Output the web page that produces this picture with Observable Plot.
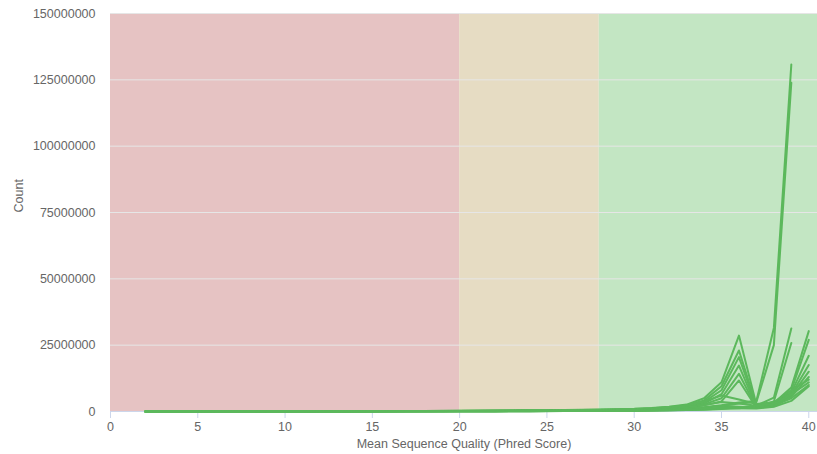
<!DOCTYPE html>
<html>
<head>
<meta charset="utf-8">
<script src="https://cdn.jsdelivr.net/npm/d3@7"></script>
<script src="https://cdn.jsdelivr.net/npm/@observablehq/plot@0.6"></script>
<style>
  body { margin: 0; background: #ffffff; }
</style>
</head>
<body>
<div id="chart"></div>
<script>
// Mean sequence quality (Phred score) on the x axis
const quality = [2, 3, 4, 5, 6, 7, 8, 9, 10, 11, 12, 13, 14, 15, 16, 17, 18, 19, 20,
  21, 22, 23, 24, 25, 26, 27, 28, 29, 30, 31, 32, 33, 34, 35, 36, 37, 38, 39, 40];

// Read counts per sample, in millions, one value per quality score above
const sample01 = [0.04, 0.04, 0.05, 0.05, 0.06, 0.06, 0.07, 0.08, 0.09, 0.10, 0.11, 0.12, 0.13, 0.15, 0.17, 0.19, 0.21, 0.24, 0.27,
  0.30, 0.34, 0.38, 0.43, 0.49, 0.56, 0.64, 0.74, 0.86, 1.0, 1.3, 1.8, 2.6, 5.0, 11.0, 28.6, 2.5, 3.2, 9.0, 30.3];
const sample02 = [0.04, 0.04, 0.04, 0.05, 0.05, 0.06, 0.07, 0.07, 0.08, 0.09, 0.10, 0.11, 0.12, 0.14, 0.15, 0.17, 0.19, 0.22, 0.25,
  0.28, 0.31, 0.35, 0.40, 0.45, 0.51, 0.58, 0.67, 0.78, 0.9, 1.2, 1.7, 2.4, 4.2, 9.5, 23.0, 2.2, 2.8, 8.0, 27.0];
const sample03 = [0.03, 0.04, 0.04, 0.04, 0.05, 0.05, 0.06, 0.07, 0.07, 0.08, 0.09, 0.10, 0.11, 0.12, 0.14, 0.15, 0.17, 0.20, 0.22,
  0.25, 0.28, 0.32, 0.36, 0.41, 0.46, 0.52, 0.60, 0.70, 0.8, 1.1, 1.5, 2.1, 3.6, 8.0, 20.5, 2.0, 2.6, 7.2, 21.0];
const sample04 = [0.03, 0.03, 0.04, 0.04, 0.04, 0.05, 0.05, 0.06, 0.06, 0.07, 0.08, 0.09, 0.10, 0.11, 0.12, 0.14, 0.15, 0.17, 0.20,
  0.22, 0.25, 0.28, 0.32, 0.36, 0.41, 0.47, 0.54, 0.62, 0.7, 1.0, 1.3, 1.9, 3.1, 6.5, 17.3, 1.8, 2.4, 6.5, 17.5];
const sample05 = [0.03, 0.03, 0.03, 0.04, 0.04, 0.04, 0.05, 0.05, 0.06, 0.06, 0.07, 0.08, 0.09, 0.10, 0.11, 0.12, 0.14, 0.15, 0.17,
  0.20, 0.22, 0.25, 0.28, 0.32, 0.37, 0.42, 0.48, 0.55, 0.6, 0.9, 1.2, 1.7, 2.7, 5.0, 14.2, 1.6, 2.2, 6.0, 15.0];
const sample06 = [0.02, 0.03, 0.03, 0.03, 0.04, 0.04, 0.04, 0.05, 0.05, 0.06, 0.06, 0.07, 0.08, 0.09, 0.10, 0.11, 0.12, 0.14, 0.15,
  0.17, 0.20, 0.22, 0.25, 0.29, 0.33, 0.38, 0.43, 0.50, 0.6, 0.8, 1.1, 1.5, 2.3, 3.8, 11.7, 1.4, 2.0, 5.5, 13.0];
const sample07 = [0.01, 0.01, 0.02, 0.02, 0.02, 0.03, 0.03, 0.03, 0.04, 0.04, 0.05, 0.05, 0.06, 0.06, 0.07, 0.08, 0.09, 0.10, 0.11,
  0.12, 0.14, 0.16, 0.18, 0.20, 0.23, 0.27, 0.32, 0.40, 0.5, 0.6, 0.8, 1.1, 1.6, 2.4, 3.4, 4.0, 31.5, 130.8];
const sample08 = [0.01, 0.01, 0.02, 0.02, 0.02, 0.02, 0.03, 0.03, 0.03, 0.04, 0.04, 0.05, 0.05, 0.06, 0.07, 0.07, 0.08, 0.09, 0.10,
  0.12, 0.13, 0.15, 0.17, 0.19, 0.22, 0.26, 0.31, 0.38, 0.5, 0.6, 0.8, 1.0, 1.4, 2.1, 3.0, 3.6, 25.0, 123.9];
const sample09 = [0.01, 0.01, 0.01, 0.01, 0.02, 0.02, 0.02, 0.02, 0.03, 0.03, 0.03, 0.04, 0.04, 0.05, 0.05, 0.06, 0.06, 0.07, 0.08,
  0.09, 0.10, 0.11, 0.13, 0.15, 0.17, 0.19, 0.22, 0.26, 0.3, 0.4, 0.5, 0.6, 0.8, 1.1, 1.5, 2.2, 5.2, 31.3];
const sample10 = [0.01, 0.01, 0.01, 0.01, 0.01, 0.02, 0.02, 0.02, 0.02, 0.03, 0.03, 0.03, 0.04, 0.04, 0.05, 0.05, 0.06, 0.06, 0.07,
  0.08, 0.09, 0.10, 0.12, 0.13, 0.15, 0.18, 0.21, 0.25, 0.3, 0.4, 0.5, 0.6, 0.7, 0.9, 1.2, 1.8, 3.8, 25.8];
const sample11 = [0.03, 0.03, 0.04, 0.04, 0.05, 0.05, 0.06, 0.06, 0.07, 0.08, 0.09, 0.10, 0.11, 0.12, 0.13, 0.15, 0.17, 0.19, 0.21,
  0.24, 0.27, 0.30, 0.34, 0.38, 0.43, 0.49, 0.55, 0.62, 0.7, 1.0, 1.5, 2.3, 3.8, 6.0, 4.5, 2.8, 3.5, 8.0, 12.0];
const sample12 = [0.02, 0.02, 0.03, 0.03, 0.03, 0.04, 0.04, 0.05, 0.05, 0.06, 0.06, 0.07, 0.08, 0.09, 0.10, 0.11, 0.12, 0.14, 0.15,
  0.17, 0.19, 0.22, 0.25, 0.28, 0.32, 0.36, 0.41, 0.46, 0.5, 0.7, 1.0, 1.5, 2.4, 3.6, 3.0, 2.2, 2.8, 6.5, 11.0];
const sample13 = [0.02, 0.02, 0.02, 0.02, 0.03, 0.03, 0.03, 0.04, 0.04, 0.04, 0.05, 0.05, 0.06, 0.07, 0.07, 0.08, 0.09, 0.10, 0.11,
  0.13, 0.14, 0.16, 0.18, 0.21, 0.24, 0.27, 0.31, 0.35, 0.4, 0.5, 0.7, 1.0, 1.5, 2.2, 1.8, 1.5, 2.2, 5.0, 10.0];
const sample14 = [0.01, 0.01, 0.02, 0.02, 0.02, 0.02, 0.03, 0.03, 0.03, 0.04, 0.04, 0.04, 0.05, 0.05, 0.06, 0.06, 0.07, 0.08, 0.09,
  0.10, 0.11, 0.12, 0.14, 0.16, 0.18, 0.20, 0.23, 0.27, 0.3, 0.4, 0.5, 0.7, 1.0, 1.4, 1.2, 1.1, 1.8, 4.0, 9.5];

const sampleNames = ["Sample 01", "Sample 02", "Sample 03", "Sample 04", "Sample 05", "Sample 06", "Sample 07",
  "Sample 08", "Sample 09", "Sample 10", "Sample 11", "Sample 12", "Sample 13", "Sample 14"];
const sampleCounts = [sample01, sample02, sample03, sample04, sample05, sample06, sample07,
  sample08, sample09, sample10, sample11, sample12, sample13, sample14];

// Quality zones (fail / warn / pass)
const zoneNames = ["fail", "warn", "pass"];
const zoneStarts = [0, 20, 28];
const zoneEnds = [20, 28, 40.5];

// Axis ticks
const xTicks = [0, 5, 10, 15, 20, 25, 30, 35, 40];
const yTicks = [0, 25000000, 50000000, 75000000, 100000000, 125000000, 150000000];

// Long table: one row per sample and quality score
const rows = sampleCounts.flatMap((counts, s) =>
  counts.map((m, i) => ({ sample: sampleNames[s], quality: quality[i], count: m * 1e6 }))
);
const zones = zoneNames.map((z, i) => ({ zone: z, from: zoneStarts[i], to: zoneEnds[i] }));

const chart = Plot.plot({
  width: 817,
  height: 454,
  marginLeft: 110,
  marginRight: 0,
  marginTop: 13,
  marginBottom: 43,
  style: { fontFamily: "'Liberation Sans', Arial, sans-serif", fontSize: "12.5px", background: "#ffffff" },
  x: { domain: [0, 40.5] },
  y: { domain: [0, 150000000] },
  color: { domain: zoneNames, range: ["#e6c3c3", "#e6dcc3", "#c3e6c3"] },
  marks: [
    Plot.rect(zones, { x1: "from", x2: "to", y1: 0, y2: 150000000, fill: "zone" }),
    Plot.gridY(yTicks, { stroke: "#e6e6e6", strokeOpacity: 1 }),
    Plot.ruleY([0], { stroke: "#ccd6eb" }),
    Plot.axisX(xTicks, {
      tickSize: 7, tickPadding: 4, stroke: "#ccd6eb", fill: "#666666",
      tickFormat: d => String(d), label: null
    }),
    Plot.axisY(yTicks, {
      tickSize: 0, tickPadding: 15, fill: "#666666",
      tickFormat: d => String(d), label: null
    }),
    Plot.text(["Count"], { frameAnchor: "left", dx: -92, rotate: -90, fill: "#666666", fontSize: 12.5 }),
    Plot.text(["Mean Sequence Quality (Phred Score)"], { frameAnchor: "bottom", dy: 36, fill: "#666666", fontSize: 12.5 }),
    Plot.line(rows, { x: "quality", y: "count", z: "sample", stroke: "#5cb85c", strokeWidth: 2 })
  ]
});
document.getElementById("chart").appendChild(chart);
</script>
</body>
</html>
